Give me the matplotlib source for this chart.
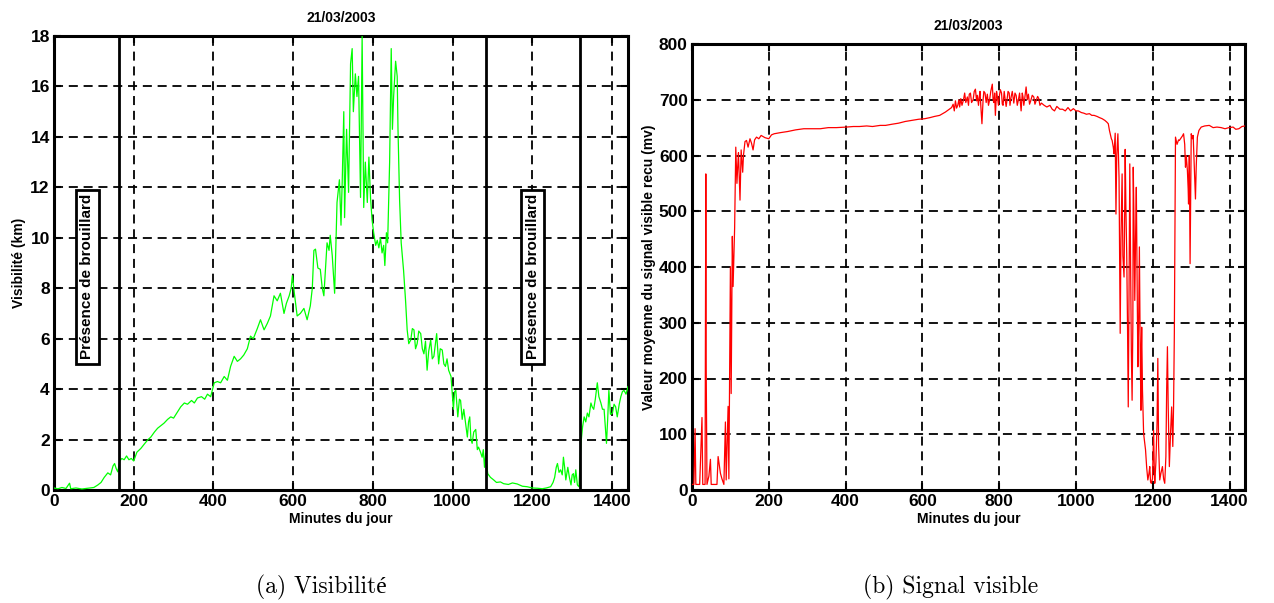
import matplotlib
matplotlib.use("Agg")
import matplotlib.pyplot as plt

# ---------------- data ----------------
vis_min = [0, 10, 20, 30, 39, 42, 55, 70, 85, 100, 110, 118, 126, 135, 142, 148, 152, 156, 160,
           165, 170, 176, 182, 188, 194, 200, 208, 218, 228, 236, 243, 252, 260, 268, 276, 285,
           293, 300, 310, 318, 327, 335, 345, 352, 360, 370, 378, 385, 393, 402, 410, 418, 427,
           435, 443, 452, 460, 468, 476, 485, 493, 500, 510, 518, 527, 535, 543, 552, 560, 568,
           577, 583, 590, 595, 598, 603, 610, 618, 627, 635, 643, 648, 652, 656, 662, 668, 673,
           677, 682, 685, 690, 693, 698, 704, 710, 716, 720, 723, 727, 729, 734, 739, 744, 748,
           751, 756, 760, 764, 769, 773, 777, 781, 786, 790, 794, 798, 802, 807, 811, 815, 819,
           823, 827, 830, 834, 837, 842, 846, 849, 852, 857, 861, 863, 867, 871, 877, 882, 886,
           890, 895, 899, 903, 907, 911, 915, 920, 924, 928, 932, 936, 940, 945, 949, 953, 957,
           960, 965, 969, 974, 978, 982, 986, 990, 996, 1002, 1005, 1008, 1013, 1017, 1020, 1024,
           1028, 1033, 1037, 1040, 1043, 1046, 1049, 1053, 1058, 1062, 1065, 1070, 1074, 1077,
           1080, 1083, 1088, 1095, 1103, 1110, 1120, 1128, 1140, 1150, 1162, 1175, 1187, 1200,
           1213, 1225, 1235, 1246, 1252, 1256, 1260, 1263, 1267, 1271, 1275, 1278, 1281, 1284,
           1289, 1293, 1297, 1300, 1303, 1306, 1309, 1313, 1317, 1322, 1326, 1330, 1334, 1338,
           1342, 1347, 1350, 1354, 1358, 1363, 1367, 1372, 1376, 1380, 1383, 1386, 1389, 1392,
           1396, 1401, 1405, 1409, 1413, 1418, 1422, 1426, 1430, 1435, 1440]
vis_km = [0.08, 0.05, 0.1, 0.06, 0.27, 0.05, 0.08, 0.04, 0.07, 0.1, 0.2, 0.3, 0.5, 0.68, 0.6, 0.95,
          1.05, 0.85, 0.72, 1.15, 1.25, 1.2, 1.35, 1.2, 1.25, 1.15, 1.5, 1.65, 1.85, 2.0, 2.1, 2.3,
          2.45, 2.55, 2.65, 2.8, 2.9, 2.85, 3.1, 3.3, 3.45, 3.4, 3.55, 3.45, 3.65, 3.7, 3.6, 3.8,
          3.7, 4.25, 4.3, 4.25, 4.5, 4.35, 4.9, 5.3, 5.1, 5.2, 5.35, 5.6, 6.1, 6.0, 6.4, 6.75, 6.35,
          6.6, 6.9, 7.7, 7.5, 7.8, 7.0, 7.4, 7.7, 8.0, 8.5, 7.8, 6.9, 7.0, 7.2, 6.75, 7.3, 8.0, 9.5,
          9.55, 8.8, 8.75, 8.0, 7.7, 9.0, 9.8, 9.5, 10.1, 9.3, 7.8, 11.4, 12.3, 10.5, 12.2, 15.0,
          10.8, 14.3, 11.8, 16.9, 17.5, 15.0, 16.5, 15.6, 16.4, 11.6, 18.0, 11.2, 13.0, 11.4, 13.2,
          11.6, 10.7, 10.2, 9.7, 9.9, 9.6, 10.0, 9.4, 9.7, 8.9, 10.2, 9.8, 13.0, 17.5, 14.3, 15.6,
          17.0, 16.4, 14.3, 11.5, 9.8, 8.7, 7.5, 6.35, 5.8, 5.95, 6.4, 6.35, 5.6, 5.8, 6.3, 6.2,
          5.6, 5.4, 5.9, 4.75, 5.5, 5.95, 5.2, 5.3, 5.8, 6.2, 5.0, 5.6, 5.55, 5.0, 4.9, 5.2, 4.75,
          4.5, 3.2, 3.9, 3.95, 2.9, 3.6, 3.55, 2.8, 3.2, 2.6, 2.1, 2.7, 2.9, 2.0, 1.85, 2.3, 2.4,
          1.6, 1.7, 1.5, 1.3, 1.6, 0.9, 1.45, 0.65, 0.5, 0.4, 0.3, 0.32, 0.25, 0.22, 0.28, 0.24,
          0.15, 0.13, 0.08, 0.07, 0.05, 0.08, 0.13, 0.3, 0.5, 0.9, 1.05, 0.7, 0.8, 0.6, 1.3, 0.9,
          0.4, 0.9, 0.5, 0.2, 0.6, 0.65, 0.3, 0.8, 0.2, 0.13, 1.85, 2.5, 2.9, 2.7, 3.05, 2.9, 3.45,
          3.3, 3.2, 3.6, 4.25, 3.7, 3.45, 3.2, 3.2, 2.5, 1.85, 2.8, 3.95, 3.0, 3.05, 3.4, 3.3, 2.9,
          3.4, 3.7, 3.9, 3.95, 3.8, 4.1]

sig_min = [0, 5, 8, 10, 20, 26, 28, 34, 36, 37, 39, 44, 48, 50, 65, 68, 72, 74, 78, 83, 87, 89,
           94, 96, 100, 102, 105, 107, 111, 114, 117, 119, 121, 125, 128, 132, 134, 138, 142, 146,
           151, 155, 159, 163, 168, 174, 180, 190, 200, 207, 214, 230, 249, 270, 291, 310, 334,
           355, 376, 402, 420, 436, 455, 470, 490, 504, 520, 538, 555, 572, 590, 606, 620, 631,
           645, 660, 676, 680, 683, 686, 689, 692, 695, 697, 700, 703, 707, 710, 713, 717, 720,
           722, 725, 728, 732, 735, 738, 741, 743, 746, 748, 750, 752, 755, 758, 760, 763, 766,
           769, 772, 775, 778, 782, 784, 786, 788, 790, 793, 795, 798, 800, 803, 806, 808, 810,
           813, 815, 818, 820, 823, 826, 828, 831, 834, 838, 841, 844, 847, 850, 853, 857, 860,
           862, 864, 866, 868, 870, 873, 876, 879, 882, 886, 890, 893, 896, 900, 903, 906, 910,
           917, 924, 932, 938, 944, 950, 958, 965,
           972, 979, 986, 993, 1000, 1006, 1014, 1020, 1027, 1035, 1041, 1047, 1055, 1061, 1068,
           1075, 1080, 1084, 1087, 1089, 1092, 1094, 1097, 1099, 1102, 1104, 1106, 1109, 1112,
           1115, 1117, 1120, 1122, 1125, 1127, 1128, 1130, 1132, 1134, 1136, 1138, 1140, 1142,
           1144, 1146, 1148, 1149, 1151, 1153, 1155, 1157, 1159, 1161, 1163, 1165, 1167, 1169,
           1170, 1171, 1173, 1176, 1178, 1181, 1184, 1187, 1190, 1192, 1194, 1196, 1199, 1202,
           1204, 1205, 1208, 1211, 1213, 1215, 1218, 1221, 1225, 1228, 1231, 1234, 1236, 1238,
           1240, 1243, 1246, 1249, 1252, 1254, 1256, 1258, 1259, 1263, 1267, 1269, 1274, 1277,
           1280, 1283, 1285, 1287, 1290, 1292, 1293, 1295, 1297, 1299, 1300, 1303, 1305, 1307,
           1309, 1311, 1313, 1316, 1320, 1326, 1335, 1347, 1357, 1367, 1378, 1388, 1398, 1409,
           1416, 1424, 1432, 1440]
sig_mv = [10, 10, 110, 10, 10, 130, 10, 10, 567, 215, 10, 25, 55, 10, 10, 60, 40, 30, 20, 10, 122,
          18, 150, 20, 400, 173, 455, 365, 470, 615, 550, 580, 605, 520, 610, 570, 600, 625, 627,
          615, 630, 622, 610, 628, 633, 630, 636, 632, 630, 637, 639, 641, 643, 646, 648, 648, 648,
          650, 650, 651, 652, 652, 653, 652, 654, 654, 656, 658, 661, 663, 665, 666, 668, 670, 672,
          678, 686, 692, 680, 698, 685, 690, 700, 687, 702, 690, 700, 712, 695, 705, 690,
          710, 712, 695, 700, 715, 719, 698, 708, 690, 705, 715, 690, 657, 700, 715, 712, 695,
          710, 690, 700, 715, 728, 700, 695, 712, 672, 715, 706, 690, 705, 718, 712, 692, 690,
          715, 703, 688, 698, 715, 712, 690, 705, 715, 694, 712, 708, 690, 700, 712, 680, 712,
          705, 690, 700, 712, 723, 700, 710, 692, 698, 708, 705, 692, 698, 706, 702, 690, 694,
          690, 687, 690, 683, 680, 688, 683, 683,
          680, 686, 680, 684,
          680, 680, 677, 676, 674, 675, 672, 672, 670, 668, 666, 663, 660, 657, 645, 639, 630, 627,
          615, 603, 640, 495, 600, 639, 560, 281, 450, 567, 420, 382, 520, 611, 500, 424, 300, 149,
          350, 585, 420, 250, 161, 300, 579, 480, 340, 450, 543, 380, 221, 300, 436, 260, 143, 250,
          292, 180, 101, 90, 72, 40, 18, 30, 42, 15, 12, 20, 107, 30, 12, 50, 120, 236, 80, 18, 30,
          42, 20, 12, 60, 180, 257, 150, 42, 100, 149, 78, 150, 281, 500, 633, 620, 628, 627, 632,
          635, 639, 620, 579, 600, 573, 540, 513, 600, 406, 560, 639, 630, 636, 600, 560, 522, 580,
          633, 645, 651, 653, 654, 650, 651, 650, 648, 650, 651, 647, 648, 652, 653]

fog_limits = [162, 1085, 1319]
fog_label_x = [83, 1201]
x_ticks = [0, 200, 400, 600, 800, 1000, 1200, 1400]
vis_ticks = list(range(0, 19, 2))
sig_ticks = list(range(0, 801, 100))

# ---------------- figure ----------------
BOLD = dict(family="Liberation Sans", fontweight="bold")
fig = plt.figure(figsize=(12.74, 6.03), dpi=100)
ax1 = fig.add_axes([54 / 1274, 1 - 490 / 603, 574 / 1274, 454 / 603])
ax2 = fig.add_axes([692 / 1274, 1 - 490 / 603, 553 / 1274, 446 / 603])


def style(ax, yticks):
    ax.set_xlim(0, 1440)
    ax.set_xticks(x_ticks)
    ax.set_yticks(yticks)
    ax.set_ylim(yticks[0], yticks[-1])
    ax.grid(True, color="black", linestyle=(0, (5, 3.2)), linewidth=1.3)
    ax.set_axisbelow(False)
    for s in ax.spines.values():
        s.set_linewidth(2.2)
    ax.tick_params(direction="in", length=5, width=1.5, top=True, right=True,
                   labelsize=12.5, pad=3)
    for lab in ax.get_xticklabels() + ax.get_yticklabels():
        lab.set_fontfamily("Liberation Sans")
        lab.set_fontweight("bold")
    ax.set_xlabel("Minutes du jour", fontsize=10, labelpad=2, **BOLD)


# left: visibility
ax1.plot(vis_min, vis_km, color="#00ff00", linewidth=0.9, zorder=3)
for xv in fog_limits:
    ax1.axvline(xv, color="black", linewidth=2, zorder=4)
for xv in fog_label_x:
    ax1.text(xv, 8.45, "Présence de brouillard", rotation=90, ha="center", va="center",
             fontsize=11, zorder=5,
             bbox=dict(boxstyle="square,pad=0.3", facecolor="white", edgecolor="black",
                       linewidth=2), **BOLD)
style(ax1, vis_ticks)
ax1.set_ylabel("Visibilité (km)", fontsize=10, labelpad=3, **BOLD)
ax1.set_title("21/03/2003", fontsize=10, pad=10, **BOLD)

# right: signal
ax2.plot(sig_min, sig_mv, color="#ff0000", linewidth=0.9, zorder=3)
style(ax2, sig_ticks)
ax2.set_ylabel("Valeur moyenne du signal visible recu (mv)", fontsize=10, labelpad=2, **BOLD)
ax2.set_title("21/03/2003", fontsize=10, pad=10, **BOLD)

# captions
CAP = ["cmr10", "Liberation Serif"]
fig.text(321 / 1274, 1 - 587 / 603, "(a) Visibilité", ha="center", va="center",
         fontsize=17, family=CAP)
fig.text(951 / 1274, 1 - 587 / 603, "(b) Signal visible", ha="center", va="center",
         fontsize=17, family=CAP)

fig.savefig("out.png", dpi=100)
